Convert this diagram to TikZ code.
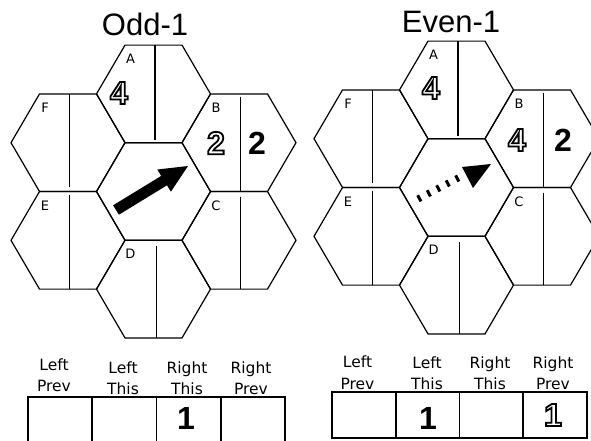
\documentclass[tikz,border=0pt]{standalone}
\usepackage{fontspec}
\setmainfont{Liberation Sans}
\newfontfamily\dvs{DejaVu Sans}
\newcommand\outl[1]{\special{pdf:literal direct 1 Tr 1.8 w}#1\special{pdf:literal direct 0 Tr 1 w}}
\newcommand\hexcluster[2]{%
  \begin{scope}[shift={#2}]
    \foreach \n/\x/\y in {c/0/0, A/0/-97.6, B/85.5/-48.8, C/85.5/48.8, D/0/97.6, E/-85.5/48.8, F/-85.5/-48.8}{%
      \coordinate (#1\n) at (\x,\y);
      \draw[hexline] (\x,\y) +(57,0) -- +(28.5,48.8) -- +(-28.5,48.8) -- +(-57,0) -- +(-28.5,-48.8) -- +(28.5,-48.8) -- cycle;
    }
    \foreach \n in {A,B,C,D,E,F}{%
      \node[hexlabel] (#1l\n) at ([shift={(-23,-35)}]#1\n) {\n};
    }
    \draw[divline] (#1A) ++(1.5,-48.8) -- ++(0,95);
    \draw[divline] (#1B) ++(1.5,-45.8) -- ++(0,94.6);
    \draw[divline] (#1F) ++(1.5,-48.8) -- ++(0,92.6);
    \draw[divline] (#1E) ++(1.5,-45.8) -- ++(0,94.6);
    \draw[divline] (#1C) ++(1.5,-43.8) -- ++(0,92.6);
    \draw[divline] (#1D) ++(3,-42.8) -- ++(0,91.6);
  \end{scope}}
\begin{document}
\begin{tikzpicture}[x=1pt,y=-1pt,
  hexline/.style={line width=1.2pt},
  divline/.style={line width=1.5pt},
  tabline/.style={line width=1.8pt},
  hexlabel/.style={font=\dvs\fontsize{13}{13}\selectfont, inner sep=0pt},
  bignum/.style={font=\fontsize{32}{32}\selectfont\bfseries, inner sep=0pt},
  titlestyle/.style={font=\fontsize{31}{31}\selectfont, inner sep=0pt},
  headstyle/.style={font=\dvs\fontsize{15.5}{21.5}\selectfont, align=center, inner sep=0pt}]
\useasboundingbox (0,0) rectangle (591,440);
\clip (0,0) rectangle (591,440);
% titles
\node[titlestyle] (t1) at (145,24) {Odd-1};
\node[titlestyle] (t2) at (451,22) {Even-1};
% clusters
\hexcluster{L}{(153.5,191.5)}
\hexcluster{R}{(456.5,187.5)}
% solid digits first
\node[bignum] (LnB2) at (257,143) {2};
\node[bignum] (RnB2) at (563,140) {2};
\node[bignum] (lv3) at (186,418) {1};
\node[bignum] (rv2) at (428,418) {1};
% outlined digits
\node[bignum] (LnA) at (119,93) {\outl{4}};
\node[bignum] (LnB1) at (216,143) {\outl{2}};
\node[bignum] (RnA) at (431,88) {\outl{4}};
\node[bignum] (RnB1) at (517,140) {\outl{4}};
\node[bignum] (rv4) at (553,415) {\outl{1}};
% solid arrow
\fill (118.9,214.7) -- (113.1,205.3) -- (161.2,175.9) -- (157.3,169.5) -- (188,166) -- (170.9,191.7) -- (167,185.3) -- cycle;
% dashed arrow
\draw[line width=7pt, dash pattern=on 3pt off 7.7pt] (418,199) -- (461,176.5);
\fill (462,167) -- (491,164) -- (473,188) -- cycle;
% left table
\draw[tabline] (28,397) rectangle (285,445);
\foreach \xx in {92.25,156.5,220.75}{\draw[tabline] (\xx,397) -- (\xx,445);}
\node[headstyle] (lh1) at (54,375) {Left\\Prev};
\node[headstyle] (lh2) at (123,378) {Left\\This};
\node[headstyle] (lh3) at (187,378) {Right\\This};
\node[headstyle] (lh4) at (251,378) {Right\\Prev};
% right table
\draw[tabline] (332,392) rectangle (587,438);
\foreach \xx in {395.75,459.5,523.25}{\draw[tabline] (\xx,392) -- (\xx,438);}
\node[headstyle] (rh1) at (357.5,372.5) {Left\\Prev};
\node[headstyle] (rh2) at (427,373) {Left\\This};
\node[headstyle] (rh3) at (490,373) {Right\\This};
\node[headstyle] (rh4) at (553,373) {Right\\Prev};
\end{tikzpicture}
\end{document}
